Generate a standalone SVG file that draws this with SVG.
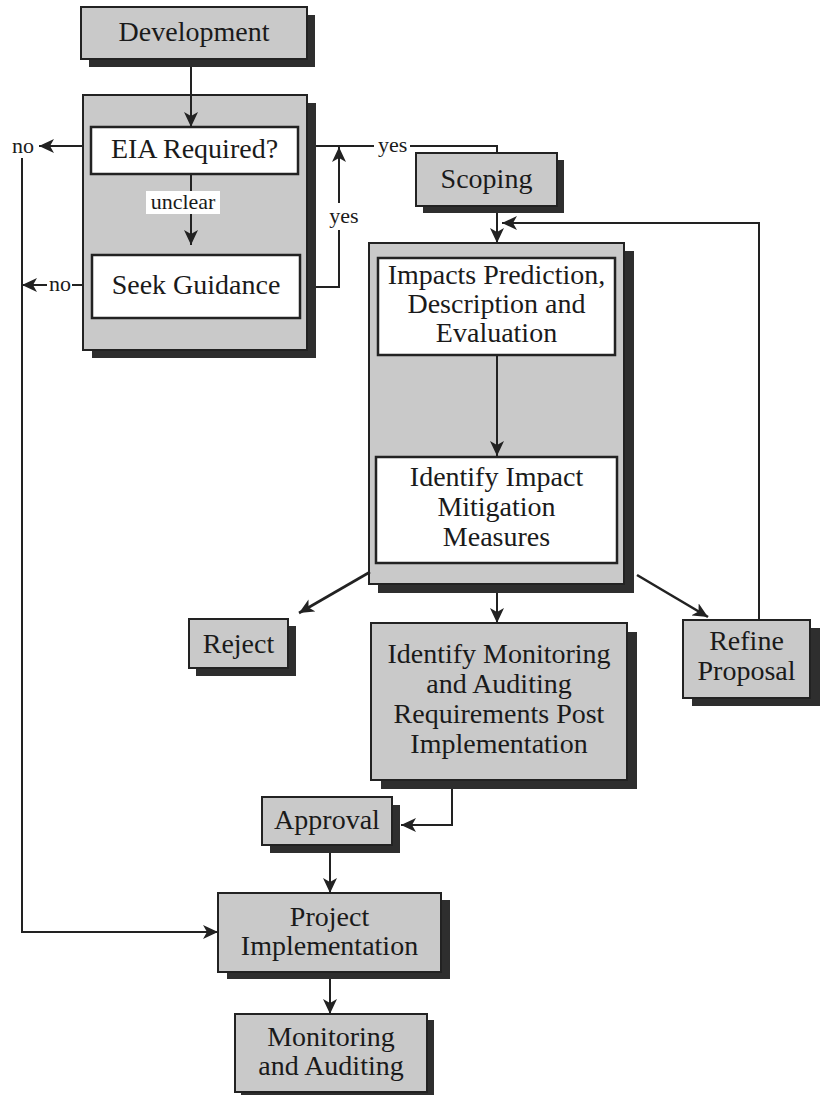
<svg xmlns="http://www.w3.org/2000/svg" width="822" height="1095" viewBox="0 0 822 1095">
<style>
.box{fill:#c9c9c9;stroke:#222;stroke-width:2}
.sh{fill:#2e2e2e}
.inner{fill:#fff;stroke:#222;stroke-width:2.5}
.t{font-family:"Liberation Serif","Times New Roman",serif;font-size:28px;fill:#1a1a1a;text-anchor:middle}
.s{font-family:"Liberation Serif","Times New Roman",serif;font-size:22px;fill:#1a1a1a}
.c{fill:none;stroke:#222;stroke-width:2}
.d{fill:none;stroke:#222;stroke-width:2.6}
</style>
<defs>
<marker id="ah" markerUnits="userSpaceOnUse" markerWidth="16" markerHeight="14" refX="15" refY="7" orient="auto">
<path d="M0,0 L15,7 L0,14 L4,7 Z" fill="#222"/>
</marker>
</defs>
<rect width="822" height="1095" fill="#fff"/>

<g id="development">
<rect class="sh" x="89" y="15" width="226" height="52"/>
<rect class="box" x="81" y="7" width="226" height="52"/>
<text class="t" x="194" y="41">Development</text>
</g>

<g id="screening">
<rect class="sh" x="92" y="103" width="224" height="255"/>
<rect class="box" x="83" y="95" width="224" height="255"/>
</g>

<g id="eia-required">
<rect class="inner" x="91" y="127" width="207" height="47"/>
<text class="t" x="194.5" y="158">EIA Required?</text>
</g>

<g id="seek-guidance">
<rect class="inner" x="92" y="255" width="208" height="63"/>
<text class="t" x="196" y="294">Seek Guidance</text>
</g>

<g id="scoping">
<rect class="sh" x="423" y="160" width="141" height="53"/>
<rect class="box" x="416" y="153" width="141" height="53"/>
<text class="t" x="486.5" y="188">Scoping</text>
</g>

<g id="assessment">
<rect class="sh" x="378" y="251" width="256" height="342"/>
<rect class="box" x="369" y="243" width="255" height="341"/>
</g>

<g id="impacts">
<rect class="inner" x="378" y="258" width="237" height="97"/>
<text class="t" x="496.5" y="284">Impacts Prediction,</text>
<text class="t" x="496.5" y="313">Description and</text>
<text class="t" x="496.5" y="342">Evaluation</text>
</g>

<g id="mitigation">
<rect class="inner" x="376" y="457" width="241" height="106"/>
<text class="t" x="496.5" y="486">Identify Impact</text>
<text class="t" x="496.5" y="516">Mitigation</text>
<text class="t" x="496.5" y="546">Measures</text>
</g>

<g id="reject">
<rect class="sh" x="196" y="626" width="100" height="50"/>
<rect class="box" x="189" y="619" width="99" height="49"/>
<text class="t" x="238.5" y="653">Reject</text>
</g>

<g id="monitoring-req">
<rect class="sh" x="381" y="632" width="256" height="157"/>
<rect class="box" x="371" y="623" width="256" height="157"/>
<text class="t" x="499" y="663">Identify Monitoring</text>
<text class="t" x="499" y="693">and Auditing</text>
<text class="t" x="499" y="723">Requirements Post</text>
<text class="t" x="499" y="753">Implementation</text>
</g>

<g id="refine">
<rect class="sh" x="692" y="628" width="128" height="78"/>
<rect class="box" x="683" y="620" width="127" height="78"/>
<text class="t" x="746.5" y="650">Refine</text>
<text class="t" x="746.5" y="680">Proposal</text>
</g>

<g id="approval">
<rect class="sh" x="270" y="805" width="130" height="48"/>
<rect class="box" x="262" y="797" width="130" height="48"/>
<text class="t" x="327" y="829">Approval</text>
</g>

<g id="implementation">
<rect class="sh" x="227" y="900" width="223" height="79"/>
<rect class="box" x="218" y="893" width="223" height="79"/>
<text class="t" x="329.5" y="926">Project</text>
<text class="t" x="329.5" y="955">Implementation</text>
</g>

<g id="monitoring">
<rect class="sh" x="241" y="1020" width="193" height="80"/>
<rect class="box" x="235" y="1014" width="192" height="78"/>
<text class="t" x="331" y="1046">Monitoring</text>
<text class="t" x="331" y="1075">and Auditing</text>
</g>

<g id="connectors">
<line class="c" x1="191" y1="67" x2="191" y2="127" marker-end="url(#ah)"/>
<line class="c" x1="191" y1="175" x2="191" y2="193"/>
<line class="c" x1="191" y1="213" x2="191" y2="245" marker-end="url(#ah)"/>
<line class="c" x1="82" y1="146" x2="39" y2="146" marker-end="url(#ah)"/>
<line class="c" x1="82" y1="285" x2="72" y2="285"/>
<line class="c" x1="47" y1="285" x2="22" y2="285" marker-end="url(#ah)"/>
<polyline class="c" points="22,158 22,932 218,932" marker-end="url(#ah)"/>
<line class="c" x1="316" y1="146" x2="374" y2="146"/>
<polyline class="c" points="410,146 497,146 497,153"/>
<polyline class="c" points="316,287 339,287 339,230"/>
<line class="c" x1="339" y1="203" x2="339" y2="147" marker-end="url(#ah)"/>
<line class="c" x1="497" y1="213" x2="497" y2="243" marker-end="url(#ah)"/>
<line class="c" x1="497" y1="356" x2="497" y2="456" marker-end="url(#ah)"/>
<line class="d" x1="370" y1="572" x2="299" y2="613" marker-end="url(#ah)"/>
<line class="c" x1="497" y1="593" x2="497" y2="623" marker-end="url(#ah)"/>
<line class="d" x1="637" y1="575" x2="708" y2="617" marker-end="url(#ah)"/>
<polyline class="c" points="759,620 759,223 502,223" marker-end="url(#ah)"/>
<polyline class="c" points="452,789 452,825 401,825" marker-end="url(#ah)"/>
<line class="c" x1="330" y1="853" x2="330" y2="893" marker-end="url(#ah)"/>
<line class="c" x1="330" y1="979" x2="330" y2="1014" marker-end="url(#ah)"/>
<text class="s" x="12" y="153">no</text>
<text class="s" x="49" y="291">no</text>
<text class="s" x="378" y="152">yes</text>
<text class="s" x="344" y="223" text-anchor="middle">yes</text>
<rect x="146" y="191" width="74" height="23" fill="#fff"/>
<text class="s" x="183" y="209" text-anchor="middle">unclear</text>
</g>
</svg>
